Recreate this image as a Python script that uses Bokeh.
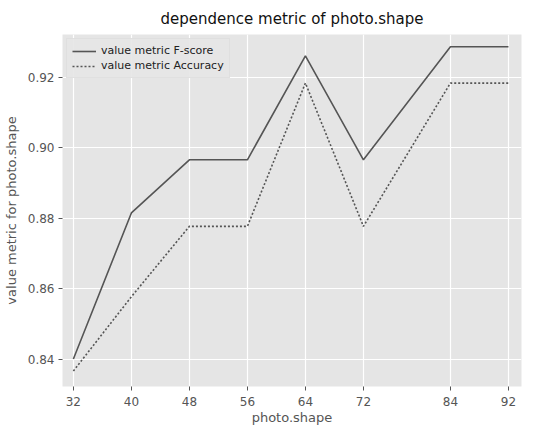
from bokeh.plotting import figure
from bokeh.models import Range1d, FixedTicker, CustomJSTickFormatter, Legend, LegendItem
from bokeh.embed import file_html
from bokeh.resources import INLINE

shapes = [32, 40, 48, 56, 64, 72, 84, 92]
f_score = [0.8400, 0.8815, 0.8966, 0.8966, 0.9261, 0.8966, 0.9287, 0.9287]
accuracy = [0.8366, 0.8577, 0.8777, 0.8777, 0.9184, 0.8777, 0.9184, 0.9184]
y_ticks = [0.84, 0.86, 0.88, 0.90, 0.92]

FONT = "DejaVu Sans"
GREY = "#555555"

p = figure(width=542, height=427, output_backend="svg", toolbar_location=None,
           x_range=Range1d(30.5, 93.8), y_range=Range1d(0.8322, 0.9322),
           min_border_left=62, min_border_right=21, min_border_top=32, min_border_bottom=35)

p.title.text = "dependence metric of photo.shape"
p.title.align = "center"
p.title.text_font = FONT
p.title.text_font_size = "15px"
p.title.text_font_style = "normal"
p.title.text_color = "#111111"
p.title.offset = 0
p.title.standoff = 14

p.background_fill_color = "#e5e5e5"
p.border_fill_color = "white"
p.outline_line_color = None

p.xgrid.grid_line_color = "white"
p.ygrid.grid_line_color = "white"
p.xgrid.grid_line_width = 1.2
p.ygrid.grid_line_width = 1.2

for ax in (p.xaxis[0], p.yaxis[0]):
    ax.axis_line_color = None
    ax.major_tick_line_color = GREY
    ax.major_tick_out = 4
    ax.major_tick_in = 0
    ax.minor_tick_line_color = None
    ax.major_label_text_font = FONT
    ax.major_label_text_font_size = "12px"
    ax.major_label_text_color = GREY
    ax.axis_label_text_font = FONT
    ax.axis_label_text_font_size = "13px"
    ax.axis_label_text_font_style = "normal"
    ax.axis_label_text_color = GREY

p.xaxis.ticker = FixedTicker(ticks=shapes)
p.yaxis.ticker = FixedTicker(ticks=y_ticks)
p.yaxis.formatter = CustomJSTickFormatter(code="return tick.toFixed(2);")
p.xaxis.axis_label = "photo.shape"
p.yaxis.axis_label = "value metric for photo.shape"
p.xaxis.major_label_standoff = 6
p.xaxis.axis_label_standoff = 1
p.yaxis.major_label_standoff = 4
p.yaxis.axis_label_standoff = 6

r1 = p.line(shapes, f_score, line_color=GREY, line_width=1.6)
r2 = p.line(shapes, accuracy, line_color=GREY, line_width=1.6, line_dash="2 2")

legend = Legend(items=[LegendItem(label="value metric F-score", renderers=[r1]),
                       LegendItem(label="value metric Accuracy", renderers=[r2])],
                location="top_left")
legend.background_fill_color = "#e5e5e5"
legend.background_fill_alpha = 0.9
legend.border_line_color = "#d8d8d8"
legend.label_text_font = FONT
legend.label_text_font_size = "11px"
legend.label_text_color = "#222222"
legend.label_height = 12
legend.glyph_height = 12
legend.glyph_width = 24
legend.spacing = 2
legend.padding = 5
legend.margin = 4
p.add_layout(legend)

open("out.html", "w").write(file_html(p, INLINE))
